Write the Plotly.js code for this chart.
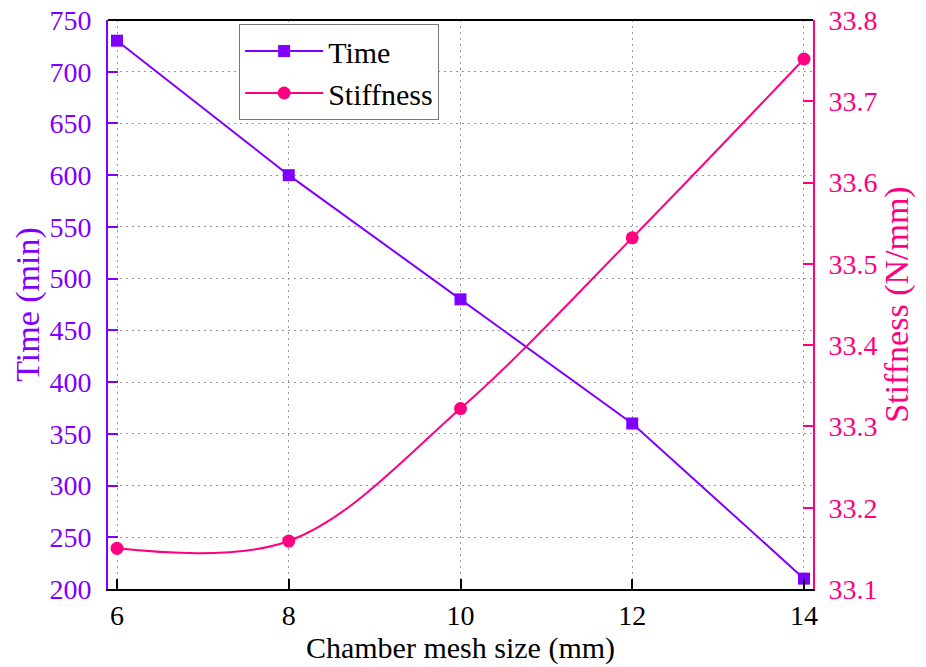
<!DOCTYPE html>
<html>
<head>
<meta charset="utf-8">
<script src="https://cdn.plot.ly/plotly-3.0.1.min.js"></script>
<style>html,body{margin:0;padding:0;background:#fff;}#chart{width:926px;height:667px;}</style>
</head>
<body>
<div id="chart"></div>
<script>
const meshSize = [6, 8, 10, 12, 14];
const timeMin = [730, 600, 480, 360, 210];
const stiffness = [33.150, 33.159, 33.322, 33.532, 33.752];
const xTicks = [6, 8, 10, 12, 14];

const purple = 'rgb(128,0,255)';
const pink = 'rgb(255,0,128)';
const font = 'Liberation Serif, Times New Roman, serif';

const traces = [
  {
    x: meshSize, y: timeMin, name: 'Time', type: 'scatter', mode: 'lines+markers',
    line: {color: purple, width: 2},
    marker: {symbol: 'square', size: 12, color: purple},
    yaxis: 'y'
  },
  {
    x: meshSize, y: stiffness, name: 'Stiffness', type: 'scatter', mode: 'lines+markers',
    line: {color: pink, width: 2, shape: 'spline', smoothing: 1},
    marker: {symbol: 'circle', size: 13, color: pink},
    yaxis: 'y2'
  }
];

const layout = {
  width: 926, height: 667,
  margin: {l: 108, r: 113, t: 20, b: 78},
  paper_bgcolor: '#fff', plot_bgcolor: '#fff',
  font: {family: font, size: 28, color: '#000'},
  showlegend: true,
  legend: {
    x: 0.186, y: 0.993, xanchor: 'left', yanchor: 'top',
    bordercolor: '#777', borderwidth: 1, bgcolor: '#fff',
    font: {family: font, size: 30, color: '#000'},
    itemwidth: 78, tracegroupgap: 0
  },
  xaxis: {
    range: [5.895, 14.105], tickvals: xTicks, ticktext: xTicks.map(String),
    showline: true, linecolor: '#000', linewidth: 2, mirror: false,
    ticks: 'inside', ticklen: 10, tickwidth: 2, tickcolor: '#000',
    showgrid: true, gridcolor: '#999', griddash: '2px,4px', gridwidth: 1,
    zeroline: false, ticklabelstandoff: 0,
    tickfont: {family: font, size: 28, color: '#000'},
    title: {text: 'Chamber mesh size (mm)', font: {family: font, size: 30, color: '#000'}, standoff: 2}
  },
  yaxis: {
    range: [200, 750], dtick: 50, tick0: 200,
    showline: true, linecolor: purple, linewidth: 2,
    ticks: 'inside', ticklen: 10, tickwidth: 2, tickcolor: purple,
    showgrid: true, gridcolor: '#999', griddash: '2px,4px', gridwidth: 1,
    zeroline: false, ticklabelstandoff: 9,
    tickfont: {family: font, size: 28, color: purple},
    title: {text: 'Time (min)', font: {family: font, size: 34, color: purple}, standoff: 0}
  },
  yaxis2: {
    range: [33.1, 33.8], dtick: 0.1, tick0: 33.1, overlaying: 'y', side: 'right',
    showline: true, linecolor: pink, linewidth: 2,
    ticks: 'inside', ticklen: 10, tickwidth: 2, tickcolor: pink,
    showgrid: false, zeroline: false, tickformat: '.1f', ticklabelstandoff: 8,
    tickfont: {family: font, size: 28, color: pink},
    title: {text: 'Stiffness (N/mm)', font: {family: font, size: 34, color: pink}, standoff: 8}
  },
  shapes: [
    {type: 'line', xref: 'paper', yref: 'paper', x0: 0, x1: 1, y0: 1, y1: 1, line: {color: '#000', width: 2}}
  ]
};

Plotly.newPlot('chart', traces, layout, {displayModeBar: false, responsive: false});
</script>
</body>
</html>
